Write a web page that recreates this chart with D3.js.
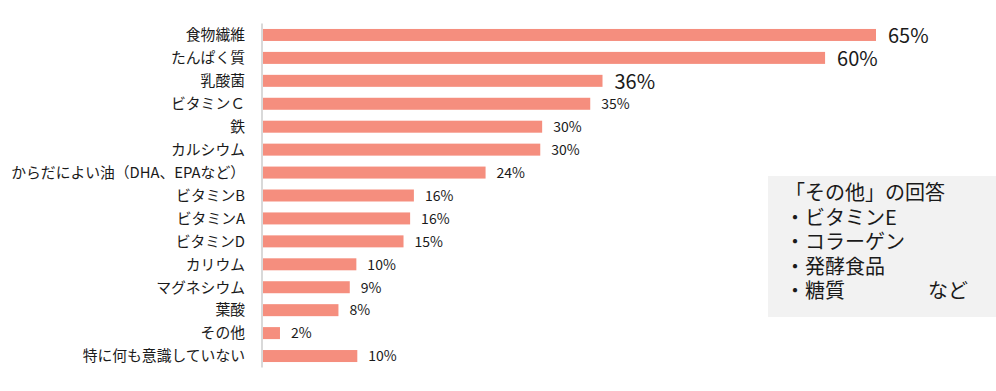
<!DOCTYPE html>
<html><head><meta charset="utf-8">
<script src="https://cdn.jsdelivr.net/npm/d3@7"></script>
<style>
html,body{margin:0;padding:0;background:#fff;}
svg{display:block;font-family:"Noto Sans CJK JP","Noto Sans",sans-serif;}
</style></head>
<body>
<svg id="c" width="996" height="391"></svg>
<script>
const categories = ["食物繊維","たんぱく質","乳酸菌","ビタミンＣ","鉄","カルシウム","からだによい油（DHA、EPAなど）","ビタミンB","ビタミンA","ビタミンD","カリウム","マグネシウム","葉酸","その他","特に何も意識していない"];
const values = [65.0,59.6,36.0,34.7,29.6,29.4,23.6,16.0,15.6,14.9,9.9,9.2,8.0,1.8,10.0];
const valueLabels = ["65%","60%","36%","35%","30%","30%","24%","16%","16%","15%","10%","9%","8%","2%","10%"];
const highlighted = ["食物繊維","たんぱく質","乳酸菌"];
const noteLines = ["「その他」の回答","・ビタミンE","・コラーゲン","・発酵食品","・糖質"];
const noteTail = "など";

const svg = d3.select("#c");
const x = d3.scaleLinear().domain([0,65]).range([263,876]);
const y = d3.scaleBand().domain(categories).range([23.5,367.5]).paddingInner(0.477).paddingOuter(0.2385);

svg.selectAll("rect.bar").data(categories).join("rect")
  .attr("class","bar")
  .attr("x",x(0))
  .attr("y",d=>y(d))
  .attr("width",(d,i)=>x(values[i])-x(0))
  .attr("height",y.bandwidth())
  .attr("fill","#F58E7E");

svg.append("line").attr("x1",262).attr("x2",262).attr("y1",23.5).attr("y2",367.5)
  .attr("stroke","#d9d9d9").attr("stroke-width",2);

svg.selectAll("text.cat").data(categories).join("text")
  .attr("class","cat")
  .attr("x",245)
  .attr("y",d=>y(d)+y.bandwidth()/2)
  .attr("dy","0.36em")
  .attr("text-anchor","end")
  .attr("font-size",14.8)
  .attr("fill","#1a1a1a")
  .text(d=>d);

svg.selectAll("text.val").data(categories).join("text")
  .attr("class","val")
  .attr("x",(d,i)=>x(values[i])+ (highlighted.includes(d)?12:11))
  .attr("y",d=>y(d)+y.bandwidth()/2)
  .attr("dy",d=>highlighted.includes(d)?"0.4em":"0.38em")
  .attr("font-size",d=>highlighted.includes(d)?20:14)
  .attr("fill","#1a1a1a")
  .text((d,i)=>valueLabels[i]);

const note = svg.append("g");
note.append("rect").attr("x",768).attr("y",176).attr("width",228).attr("height",141).attr("fill","#f2f2f2");
const nt = note.append("text").attr("font-size",20).attr("fill","#1a1a1a");
nt.selectAll("tspan.line").data(noteLines).join("tspan")
  .attr("class","line")
  .attr("x",785)
  .attr("y",(d,i)=>200+i*24.5)
  .text(d=>d);
nt.append("tspan").attr("x",928).attr("y",200+4*24.5).text(noteTail);
</script>
</body></html>
